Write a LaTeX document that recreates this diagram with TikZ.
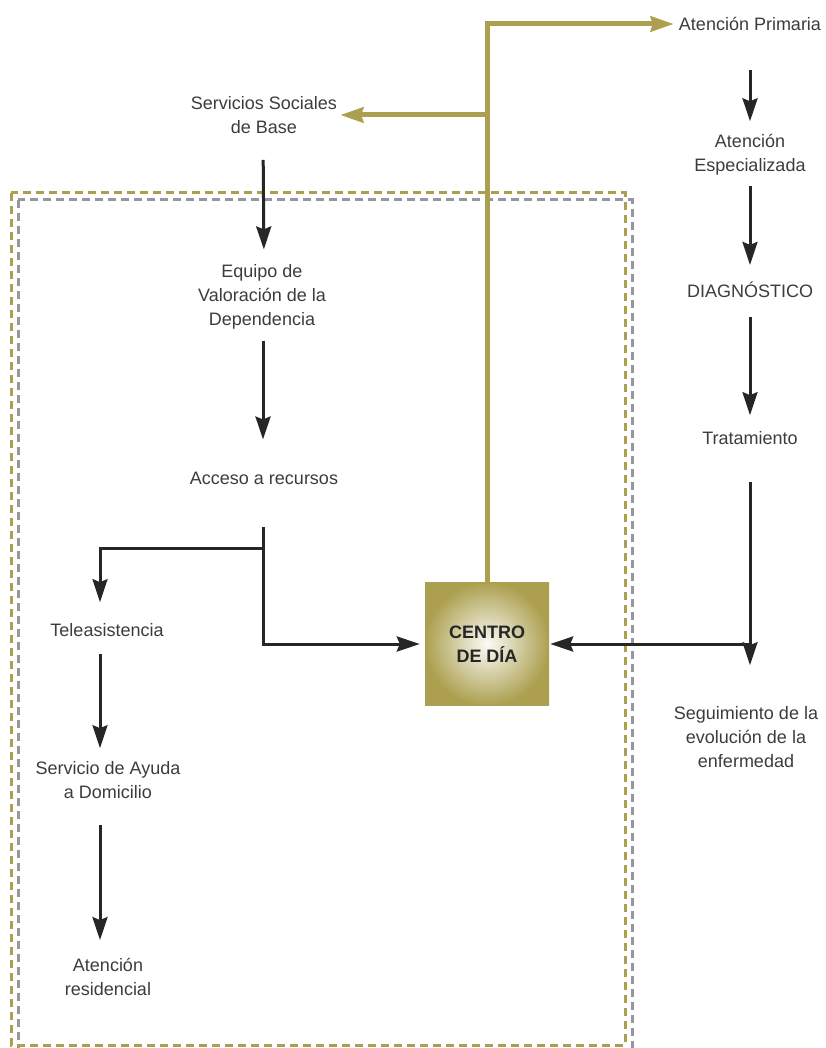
\documentclass[tikz,border=0pt]{standalone}
\usepackage{fontspec}
\setmainfont{Liberation Sans}
\usetikzlibrary{arrows.meta}

\definecolor{oliva}{RGB}{172,160,80}
\definecolor{gristxt}{RGB}{60,60,60}
\definecolor{grisdash}{RGB}{150,150,160}

\begin{document}
\begin{tikzpicture}[x=1pt,y=-1pt,
    every node/.style={align=center,inner sep=0pt,text=gristxt,font=\fontsize{18}{24}\selectfont},
    flecha/.style={draw=black!85,line width=3pt,-{Stealth[length=23pt,width=15pt,inset=3pt]}},
    rama/.style={draw=oliva,line width=5pt,-{Stealth[length=23pt,width=15pt,inset=2pt]}},
    caja/.style={minimum width=124pt,minimum height=123pt,inner color=oliva!5,outer color=oliva,text=black!85},
    marco/.style={line width=3pt,dash pattern=on 8pt off 5pt}]
  \useasboundingbox (0,0) rectangle (826,1048);
  % recuadros punteados
  \draw[marco,grisdash] (18,200) rectangle (632,1052);
  \draw[marco,oliva] (11,193) rectangle (625,1045);
  % columna derecha
  \node (ap) at (750,24)  {Atención Primaria};
  \node (ae) at (750,155) {Atención\\Especializada};
  \node (dg) at (750,290) {DIAGNÓSTICO};
  \node (tr) at (750,438) {Tratamiento};
  \node (sg) at (746,737) {Seguimiento de la\\evolución de la\\enfermedad};
  % columna izquierda
  \node (ss) at (264,115) {Servicios Sociales\\de Base};
  \node (ev) at (262,297) {Equipo de\\Valoración de la\\Dependencia};
  \node (ar) at (264,478) {Acceso a recursos};
  \node (ta) at (107,630) {Teleasistencia};
  \node (ad) at (108,780) {Servicio de Ayuda\\a Domicilio};
  \node (re) at (108,977) {Atención\\residencial};
  \node[caja] (cd) at (487,644) {\textbf{CENTRO}\\\textbf{DE DÍA}};
  \coordinate (c1) at (tr |- cd);
  \coordinate (c2) at (263,548);
  % flechas
  \draw[flecha,shorten <=39pt,shorten >=13pt] (ap) -- (ae);
  \draw[flecha,shorten <=10pt,shorten >=17pt] (ae) -- (dg);
  \draw[flecha,shorten <=19pt,shorten >=16pt] (dg) -- (tr);
  \draw[flecha,shorten <=37pt,shorten >=41pt] (tr) -- (tr |- sg.north);
  \draw[flecha,shorten >=1pt] (c1) -- (cd);
  \draw[flecha,shorten <=26pt,shorten >=15pt] ([xshift=-1pt]ss.south) -- (ss.south |- ev.north);
  \draw[flecha,shorten <=11pt,shorten >=32pt] ([xshift=1pt]ev.south) -- ([xshift=1pt]ev.south |- ar.north);
  \draw[flecha,shorten <=43pt,shorten >=5pt] ([xshift=-1pt]ar.south) |- (cd);
  \draw[flecha,shorten >=21pt] (c2) -| ([xshift=-7pt]ta.north);
  \draw[flecha,shorten <=17pt,shorten >=13pt] ([xshift=-7pt]ta.south) -- ([xshift=-8pt]ad.north);
  \draw[flecha,shorten <=26pt,shorten >=18pt] ([xshift=-8pt]ad.south) -- ([xshift=-8pt]re.north);
  \draw[rama,shorten >=5pt] (cd.north) |- (ap.west);
  \draw[rama,shorten >=3pt] (cd.north |- ss) -- (ss.east);
\end{tikzpicture}
\end{document}
